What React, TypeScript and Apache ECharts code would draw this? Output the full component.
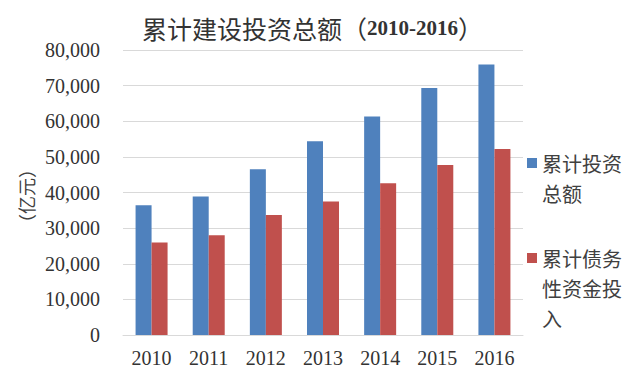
import React, { useEffect, useRef } from "react";
import * as echarts from "echarts";

const categories = ["2010", "2011", "2012", "2013", "2014", "2015", "2016"];
const seriesNames = ["累计投资总额", "累计债务性资金投入"];
const totalInvestment = [36400, 38900, 46500, 54400, 61300, 69300, 75900];
const debtFunding = [26000, 28000, 33700, 37500, 42600, 47700, 52200];
const seriesColors = ["#4F81BD", "#C0504D"];
const titleMain = "累计建设投资总额";
const titleYears = "2010-2016";
const yAxisName = "（亿元）";

const CJK = "Noto Sans CJK SC";
const SERIF = "Liberation Serif";

function wrap(s: string, n: number): string {
  const out: string[] = [];
  for (let i = 0; i < s.length; i += n) out.push(s.slice(i, i + n));
  return out.join("\n");
}

export default function App() {
  const ref = useRef<HTMLDivElement>(null);
  useEffect(() => {
    if (!ref.current) return;
    const chart = echarts.init(ref.current, null, { renderer: "svg" });
    const legendTops = [148, 243];
    const graphic: any[] = [];
    seriesNames.forEach((name, i) => {
      graphic.push({
        type: "rect",
        left: 527,
        top: legendTops[i] + 10,
        shape: { width: 10, height: 10 },
        style: { fill: seriesColors[i] },
      });
      graphic.push({
        type: "text",
        left: 542,
        top: legendTops[i],
        style: {
          text: wrap(name, 4),
          fontSize: 20,
          lineHeight: 30,
          fontFamily: CJK,
          fill: "#404040",
        },
      });
    });
    graphic.push({
      type: "text",
      x: 26,
      y: 196,
      rotation: Math.PI / 2,
      style: {
        text: yAxisName,
        fontSize: 18,
        fontFamily: CJK,
        fill: "#404040",
        align: "center",
        verticalAlign: "middle",
      },
    });
    chart.setOption({
      animation: false,
      title: {
        text: `{a|${titleMain}}{a|（}{b|${titleYears}}{a|）}`,
        left: 137,
        top: 10,
        textStyle: {
          fontWeight: "normal",
          rich: {
            a: { fontSize: 25, fontFamily: CJK, fontWeight: "normal", color: "#333" },
            b: { fontSize: 21, fontFamily: SERIF, fontWeight: "bold", color: "#333" },
          },
        },
      },
      grid: { left: 123, right: 110, top: 50, bottom: 41 },
      xAxis: {
        type: "category",
        data: categories,
        axisTick: { show: false },
        axisLine: { lineStyle: { color: "#d9d9d9" } },
        axisLabel: { fontSize: 20, fontFamily: SERIF, color: "#333", margin: 13 },
      },
      yAxis: {
        type: "value",
        min: 0,
        max: 80000,
        interval: 10000,
        axisLine: { show: false },
        axisTick: { show: false },
        splitLine: { lineStyle: { color: "#d9d9d9" } },
        axisLabel: {
          fontSize: 20,
          fontFamily: SERIF,
          color: "#333",
          margin: 23,
          formatter: (v: number) => v.toLocaleString("en-US"),
        },
      },
      series: [
        {
          name: seriesNames[0],
          type: "bar",
          data: totalInvestment,
          barWidth: 16,
          barGap: "0%",
          itemStyle: { color: seriesColors[0] },
        },
        {
          name: seriesNames[1],
          type: "bar",
          data: debtFunding,
          barWidth: 16,
          barGap: "0%",
          itemStyle: { color: seriesColors[1] },
        },
      ],
      graphic,
    });
    return () => chart.dispose();
  }, []);
  return (
    <div
      ref={ref}
      style={{ position: "fixed", left: 0, top: 0, width: 633, height: 376, background: "#fff" }}
    />
  );
}
